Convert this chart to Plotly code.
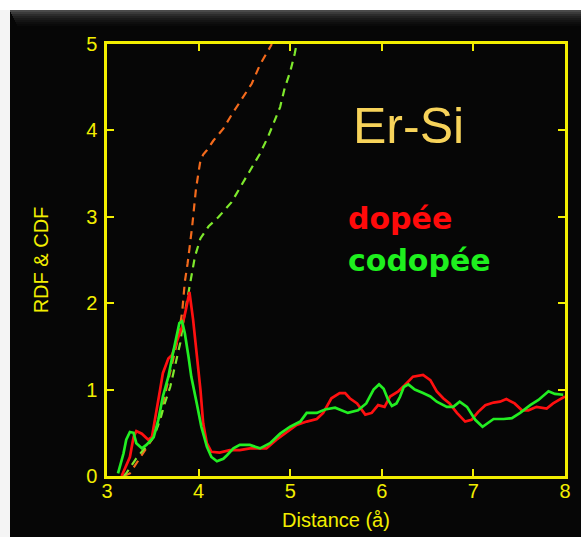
import plotly.graph_objects as go

# ---- data ----
rdf_dope_x = [3.16,3.25,3.29,3.32,3.38,3.45,3.49,3.52,3.58,3.61,3.67,3.71,3.76,3.82,3.86,3.90,3.94,3.98,4.02,4.05,4.09,4.14,4.23,4.34,4.45,4.56,4.67,4.74,4.85,4.96,5.07,5.18,5.29,5.36,5.45,5.54,5.60,5.65,5.73,5.82,5.89,5.96,6.03,6.09,6.18,6.25,6.34,6.45,6.53,6.60,6.67,6.74,6.82,6.91,6.98,7.05,7.13,7.22,7.29,7.36,7.45,7.53,7.60,7.69,7.80,7.87,7.96,8.0]
rdf_dope_y = [0.0,0.22,0.45,0.52,0.49,0.42,0.45,0.65,1.0,1.19,1.36,1.40,1.54,1.73,1.92,2.13,1.81,1.42,1.0,0.61,0.38,0.28,0.27,0.30,0.30,0.32,0.32,0.32,0.42,0.51,0.59,0.63,0.66,0.73,0.90,0.96,0.96,0.90,0.84,0.71,0.73,0.82,0.80,0.92,0.98,1.05,1.15,1.17,1.11,0.98,0.90,0.84,0.73,0.63,0.65,0.74,0.82,0.85,0.86,0.89,0.84,0.76,0.76,0.80,0.78,0.84,0.90,0.92]

rdf_codope_x = [3.12,3.18,3.21,3.25,3.29,3.32,3.38,3.43,3.51,3.56,3.61,3.67,3.72,3.76,3.79,3.82,3.85,3.89,3.92,3.98,4.03,4.09,4.14,4.20,4.27,4.31,4.38,4.45,4.56,4.67,4.78,4.89,5.0,5.11,5.18,5.29,5.38,5.49,5.56,5.63,5.74,5.83,5.91,5.97,6.02,6.07,6.11,6.16,6.20,6.24,6.29,6.36,6.45,6.53,6.60,6.71,6.78,6.85,6.93,7.02,7.10,7.22,7.33,7.42,7.51,7.62,7.71,7.82,7.89,7.98]
rdf_codope_y = [0.03,0.26,0.42,0.51,0.50,0.38,0.32,0.36,0.45,0.65,0.92,1.15,1.42,1.61,1.77,1.79,1.65,1.38,1.15,0.84,0.57,0.34,0.22,0.17,0.20,0.24,0.32,0.36,0.36,0.32,0.38,0.49,0.57,0.63,0.73,0.73,0.77,0.79,0.76,0.73,0.76,0.84,1.0,1.06,1.01,0.88,0.81,0.84,0.92,1.03,1.06,1.0,0.96,0.92,0.86,0.80,0.80,0.86,0.80,0.65,0.57,0.66,0.66,0.67,0.73,0.82,0.88,0.98,0.95,0.94]

cdf_dope_x = [3.18,3.25,3.36,3.49,3.56,3.61,3.67,3.72,3.77,3.82,3.85,3.88,3.91,3.93,3.95,3.97,4.0,4.02,4.05,4.09,4.16,4.27,4.36,4.49,4.58,4.67,4.76,4.80]
cdf_dope_y = [0.0,0.03,0.21,0.42,0.61,0.84,1.08,1.34,1.57,1.89,2.25,2.46,2.69,2.89,3.10,3.31,3.52,3.65,3.72,3.77,3.88,4.02,4.18,4.39,4.54,4.76,4.93,5.0]

cdf_codope_x = [3.18,3.21,3.31,3.41,3.51,3.58,3.63,3.69,3.74,3.80,3.83,3.88,3.92,3.96,4.02,4.11,4.22,4.36,4.47,4.58,4.67,4.76,4.82,4.89,4.94,5.0,5.05,5.07]
cdf_codope_y = [0.0,0.03,0.19,0.32,0.45,0.65,0.84,1.03,1.27,1.54,1.77,2.08,2.31,2.54,2.75,2.89,3.0,3.17,3.37,3.56,3.73,3.93,4.08,4.27,4.49,4.68,4.89,5.0]

x_ticks = [3, 4, 5, 6, 7, 8]
y_ticks = [0, 1, 2, 3, 4, 5]

YEL = "#f2ee00"
BG = "#060606"

fig = go.Figure()
fig.add_trace(go.Scatter(x=cdf_dope_x, y=cdf_dope_y, mode="lines",
                         line=dict(color="#f36a1c", width=2.2, dash="8px,6px")))
fig.add_trace(go.Scatter(x=cdf_codope_x, y=cdf_codope_y, mode="lines",
                         line=dict(color="#7ee82c", width=2.2, dash="8px,6px")))
fig.add_trace(go.Scatter(x=rdf_dope_x, y=rdf_dope_y, mode="lines",
                         line=dict(color="#ff1010", width=2.7)))
fig.add_trace(go.Scatter(x=rdf_codope_x, y=rdf_codope_y, mode="lines",
                         line=dict(color="#22ee22", width=2.7)))

W, H = 581, 537
L, R, T, B = 107, 16, 44, 61
pw, ph = W - L - R, H - T - B

def px2x(px):
    return (px - L) / pw

def py2y(py):
    return (H - B - py) / ph

shapes = [
    dict(type="rect", xref="paper", yref="paper", x0=px2x(0), x1=px2x(10), y0=py2y(H), y1=py2y(0),
         fillcolor="#f4f4f4", line=dict(width=0), layer="above"),
    dict(type="rect", xref="paper", yref="paper", x0=px2x(0), x1=px2x(W), y0=py2y(10), y1=py2y(0),
         fillcolor="#ffffff", line=dict(width=0), layer="above"),
]
# top bevel gradient
bevel = ["#4a4a4a", "#3a3a3a", "#2c2c2c", "#222222", "#1a1a1a", "#141414", "#0e0e0e", "#0a0a0a"]
for i, c in enumerate(bevel):
    shapes.append(dict(type="rect", xref="paper", yref="paper", x0=px2x(10 + i), x1=px2x(W),
                       y0=py2y(12 + 2 * i), y1=py2y(10 + 2 * i), fillcolor=c, line=dict(width=0), layer="above"))

fig.update_layout(
    width=W, height=H,
    margin=dict(l=L, r=R, t=T, b=B, pad=0, autoexpand=False),
    paper_bgcolor=BG, plot_bgcolor=BG,
    showlegend=False,
    font=dict(family="Liberation Sans, Arial, sans-serif", color=YEL, size=20),
    xaxis=dict(range=[3, 8], tickvals=x_ticks, ticks="inside", ticklen=7, tickwidth=2, tickcolor=YEL,
               showline=True, linecolor=YEL, linewidth=2.5, mirror="ticks", showgrid=False, zeroline=False,
               tickfont=dict(size=20, color=YEL), ticklabelstandoff=-5, automargin=False,
               title=dict(text="Distance (å)", font=dict(size=20, color=YEL), standoff=13)),
    yaxis=dict(range=[0, 5], tickvals=y_ticks, ticks="inside", ticklen=7, tickwidth=2, tickcolor=YEL,
               showline=True, linecolor=YEL, linewidth=2.5, mirror="ticks", showgrid=False, zeroline=False,
               tickfont=dict(size=20, color=YEL), ticklabelstandoff=3, automargin=False,
               title=dict(text="RDF &amp; CDF", font=dict(size=20, color=YEL), standoff=33)),
    shapes=shapes,
    annotations=[
        dict(text="Er-Si", x=px2x(408), y=py2y(96), xref="paper", yref="paper", showarrow=False,
             font=dict(family="Liberation Sans, Arial, sans-serif", size=50, color="#f7d35a")),
        dict(text="<b>dopée</b>", x=px2x(346), y=py2y(218), xref="paper", yref="paper", showarrow=False,
             xanchor="left", font=dict(family="DejaVu Sans", size=30, color="#ff0a0a")),
        dict(text="<b>codopée</b>", x=px2x(346), y=py2y(260), xref="paper", yref="paper", showarrow=False,
             xanchor="left", font=dict(family="DejaVu Sans", size=30, color="#1ef01e")),
    ],
)

fig.write_html("out.html")
